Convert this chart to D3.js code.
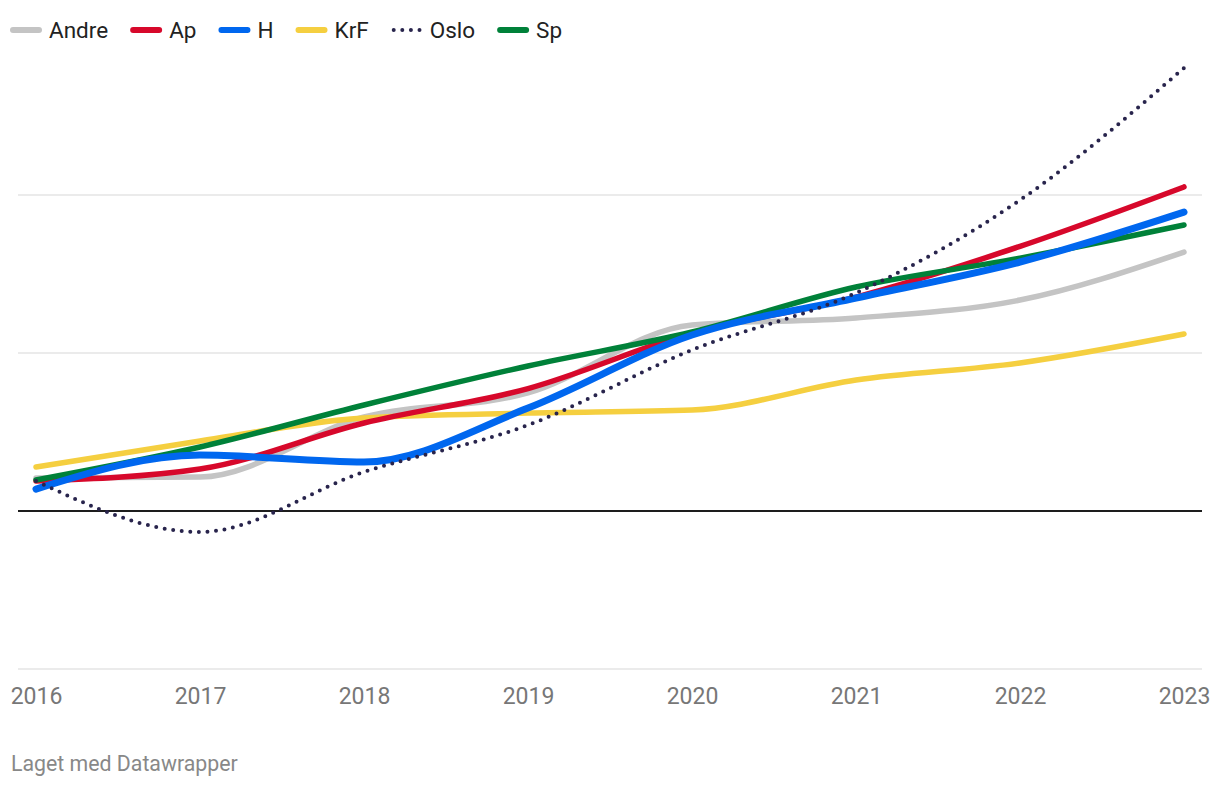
<!DOCTYPE html>
<html>
<head>
<meta charset="utf-8">
<script src="https://cdn.jsdelivr.net/npm/d3@7"></script>
<style>
  html, body { margin: 0; padding: 0; background: #fff; }
  svg { display: block; font-family: Roboto, "Noto Sans", sans-serif; }
</style>
</head>
<body>
<svg id="chart" width="1220" height="786"></svg>
<script>
// Data (y in chart units, 0 = black baseline)
const years = [2016, 2017, 2018, 2019, 2020, 2021, 2022, 2023];
const andre = [2.09, 2.15, 5.95, 7.47, 11.77, 12.22, 13.35, 16.39];
const ap    = [1.90, 2.66, 5.57, 7.75, 11.27, 13.54, 16.75, 20.51];
const h     = [1.39, 3.54, 3.10, 6.52, 11.14, 13.48, 15.76, 18.92];
const krf   = [2.78, 4.43, 5.89, 6.20, 6.39, 8.29, 9.37, 11.20];
const oslo  = [1.90, -1.33, 2.47, 5.44, 10.19, 13.80, 19.68, 28.04];
const sp    = [1.96, 4.05, 6.71, 9.18, 11.33, 14.18, 16.00, 18.10];
const gridTicks = [-10, 0, 10, 20];

const series = [
  { name: 'Andre', values: andre, color: '#c4c4c4', width: 5.5 },
  { name: 'Ap',    values: ap,    color: '#d7082b', width: 5.5 },
  { name: 'H',     values: h,     color: '#0067ef', width: 7 },
  { name: 'KrF',   values: krf,   color: '#f5cf40', width: 5.5 },
  { name: 'Oslo',  values: oslo,  color: '#28244c', width: 4, dotted: true },
  { name: 'Sp',    values: sp,    color: '#008139', width: 5.5 },
];
const drawOrder = ['Andre', 'KrF', 'Ap', 'Sp', 'H', 'Oslo'];

const svg = d3.select('#chart');

const x = d3.scaleLinear().domain([2016, 2023]).range([36, 1184]);
const y = d3.scaleLinear().domain([-10, 30]).range([669, 37]);

// Grid lines
const grid = svg.append('g').attr('class', 'grid');
grid.selectAll('line')
  .data(gridTicks)
  .join('line')
  .attr('x1', 18).attr('x2', 1202)
  .attr('y1', d => y(d)).attr('y2', d => y(d))
  .attr('stroke', d => d === 0 ? '#1d1d1d' : '#e5e5e5')
  .attr('stroke-width', d => d === 0 ? 2 : 1.6);

// X axis labels
const xAxis = d3.axisBottom(x).tickValues(years).tickFormat(d3.format('d')).tickSize(0).tickPadding(0);
const xg = svg.append('g').attr('transform', `translate(0, ${y(-10)})`).call(xAxis);
xg.select('.domain').remove();
xg.selectAll('text')
  .attr('dy', null)
  .attr('y', 35)
  .attr('fill', '#777')
  .style('font-size', '23px')
  .style('font-family', 'Roboto, sans-serif');

// Lines
const line = d3.line()
  .x((d, i) => x(years[i]))
  .y(d => y(d))
  .curve(d3.curveMonotoneX);

const linesG = svg.append('g').attr('class', 'lines');
drawOrder.forEach(name => {
  const s = series.find(d => d.name === name);
  const p = linesG.append('path')
    .attr('d', line(s.values))
    .attr('fill', 'none')
    .attr('stroke', s.color)
    .attr('stroke-width', s.width)
    .attr('stroke-linecap', 'round')
    .attr('stroke-linejoin', 'round');
  if (s.dotted) p.attr('stroke-dasharray', '0 8.6');
});

// Legend
const legend = svg.append('g').attr('class', 'legend');
let lx = 13;
series.forEach(s => {
  const g = legend.append('g');
  g.append('line')
    .attr('x1', lx).attr('x2', lx + 26)
    .attr('y1', 30).attr('y2', 30)
    .attr('stroke', s.color)
    .attr('stroke-width', s.dotted ? 4 : 6)
    .attr('stroke-linecap', 'round')
    .attr('stroke-dasharray', s.dotted ? '0 8.6' : null);
  const t = g.append('text')
    .attr('x', lx + 36)
    .attr('y', 38)
    .attr('fill', '#222')
    .style('font-size', '22.5px')
    .text(s.name);
  lx = lx + 36 + t.node().getComputedTextLength() + 25;
});

// Footer
svg.append('text')
  .attr('x', 11)
  .attr('y', 771)
  .attr('fill', '#888')
  .style('font-size', '21.3px')
  .text('Laget med Datawrapper');
</script>
</body>
</html>
